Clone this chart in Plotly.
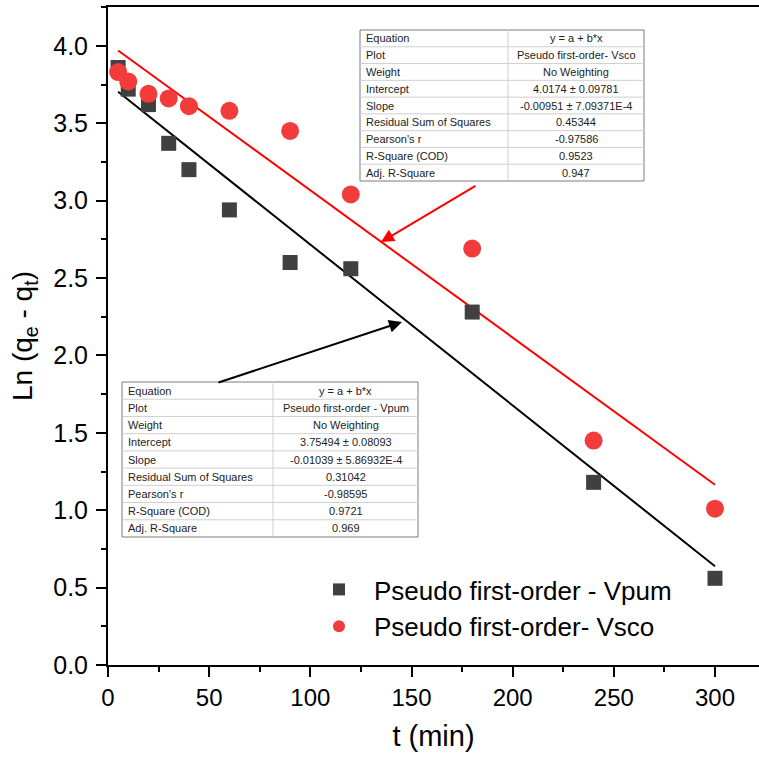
import plotly.graph_objects as go

# ---- data ----
t_min = [5, 10, 20, 30, 40, 60, 90, 120, 180, 240, 300]
ln_vpum = [3.86, 3.72, 3.62, 3.37, 3.20, 2.94, 2.60, 2.56, 2.28, 1.18, 0.56]
ln_vsco = [3.83, 3.77, 3.69, 3.66, 3.61, 3.58, 3.45, 3.04, 2.69, 1.45, 1.01]

fit_vpum = {"intercept": 3.75494, "slope": -0.01039}
fit_vsco = {"intercept": 4.0174, "slope": -0.00951}
fit_t = [5, 300]

name_vpum = "Pseudo first-order - Vpum"
name_vsco = "Pseudo first-order- Vsco"

x_ticks = [0, 50, 100, 150, 200, 250, 300]
y_ticks = [0, 0.5, 1.0, 1.5, 2.0, 2.5, 3.0, 3.5, 4.0]
y_tick_labels = ["0.0", "0.5", "1.0", "1.5", "2.0", "2.5", "3.0", "3.5", "4.0"]

table_labels = ["Equation", "Plot", "Weight", "Intercept", "Slope",
                "Residual Sum of Squares", "Pearson's r", "R-Square (COD)", "Adj. R-Square"]
table_vsco = ["y = a + b*x", "Pseudo first-order- Vsco", "No Weighting",
              "4.0174 \u00b1 0.09781", "-0.00951 \u00b1 7.09371E-4", "0.45344",
              "-0.97586", "0.9523", "0.947"]
table_vpum = ["y = a + b*x", "Pseudo first-order - Vpum", "No Weighting",
              "3.75494 \u00b1 0.08093", "-0.01039 \u00b1 5.86932E-4", "0.31042",
              "-0.98595", "0.9721", "0.969"]

W, H = 759, 759
ML, MR, MT, MB = 108, 0, 7, 94
PW, PH = W - ML - MR, H - MT - MB

def px(x):
    return (x - ML) / PW

def py(y):
    return (H - MB - y) / PH

FONT = "Liberation Sans, Arial, sans-serif"
RED = "#f23c3c"
GREY = "#404040"

fig = go.Figure()

fig.add_trace(go.Scatter(
    x=fit_t, y=[fit_vpum["intercept"] + fit_vpum["slope"] * t for t in fit_t],
    mode="lines", line=dict(color="black", width=2), showlegend=False, hoverinfo="skip"))
fig.add_trace(go.Scatter(
    x=fit_t, y=[fit_vsco["intercept"] + fit_vsco["slope"] * t for t in fit_t],
    mode="lines", line=dict(color="#ff0000", width=2), showlegend=False, hoverinfo="skip"))

fig.add_trace(go.Scatter(
    x=t_min, y=ln_vpum, mode="markers", name=name_vpum,
    marker=dict(symbol="square", size=15, color=GREY, line=dict(width=0))))
fig.add_trace(go.Scatter(
    x=t_min, y=ln_vsco, mode="markers", name=name_vsco,
    marker=dict(symbol="circle", size=18, color=RED, line=dict(width=0))))

shapes = []
annotations = []

def add_table(left, right, top, bottom, coldiv, values):
    n = len(table_labels)
    rh = (bottom - top) / n
    shapes.append(dict(type="rect", xref="paper", yref="paper",
                       x0=px(left), x1=px(right), y0=py(bottom), y1=py(top),
                       fillcolor="white", line=dict(color="#7a7a7a", width=1), layer="above"))
    for i in range(1, n):
        yy = top + i * rh
        shapes.append(dict(type="line", xref="paper", yref="paper",
                           x0=px(left), x1=px(right), y0=py(yy), y1=py(yy),
                           line=dict(color="#cfcfcf", width=1), layer="above"))
    shapes.append(dict(type="line", xref="paper", yref="paper",
                       x0=px(coldiv), x1=px(coldiv), y0=py(bottom), y1=py(top),
                       line=dict(color="#cfcfcf", width=1), layer="above"))
    for i in range(n):
        yc = top + (i + 0.5) * rh
        annotations.append(dict(xref="paper", yref="paper", x=px(left + 4), y=py(yc),
                                text=table_labels[i], showarrow=False, xanchor="left",
                                yanchor="middle", font=dict(family=FONT, size=11, color="#222")))
        annotations.append(dict(xref="paper", yref="paper", x=px((coldiv + right) / 2), y=py(yc),
                                text=values[i], showarrow=False, xanchor="center",
                                yanchor="middle", font=dict(family=FONT, size=11, color="#222")))

add_table(360, 644, 30, 181, 508, table_vsco)
add_table(122, 418, 382, 537, 273, table_vpum)

def add_arrow(x0, y0, x1, y1, color):
    annotations.append(dict(xref="paper", yref="paper", x=px(x1), y=py(y1),
                            ax=x0 - x1, ay=y0 - y1, axref="pixel", ayref="pixel",
                            text="", showarrow=True, arrowhead=2, arrowsize=1.3,
                            arrowwidth=2, arrowcolor=color))

add_arrow(477, 185, 381, 242, "#ff0000")
add_arrow(217, 383, 402, 322, "black")

fig.update_layout(
    width=W, height=H,
    margin=dict(l=ML, r=MR, t=MT, b=MB, pad=0),
    paper_bgcolor="white", plot_bgcolor="white",
    font=dict(family=FONT, color="black"),
    shapes=shapes, annotations=annotations,
    legend=dict(x=px(304), y=py(566), xanchor="left", yanchor="top",
                bgcolor="rgba(0,0,0,0)", font=dict(family=FONT, size=26, color="black"),
                itemsizing="constant", itemwidth=60, tracegroupgap=0),
    showlegend=True,
)

fig.update_xaxes(
    range=[0, PW / (607.0 / 300)], showgrid=False, zeroline=False,
    showline=True, linecolor="black", linewidth=2, mirror=True,
    ticks="outside", ticklen=10, tickwidth=2, tickcolor="black",
    tickvals=x_ticks,
    tickfont=dict(family=FONT, size=24, color="black"),
    minor=dict(ticks="outside", ticklen=5, tickwidth=2, tickcolor="black", dtick=25, tick0=0),
    title=dict(text="t (min)", font=dict(family=FONT, size=29, color="black"), standoff=16),
)
fig.update_yaxes(
    range=[0, PH / 154.8], showgrid=False, zeroline=False,
    showline=True, linecolor="black", linewidth=2, mirror=False,
    ticks="outside", ticklen=10, tickwidth=2, tickcolor="black",
    tickvals=y_ticks, ticktext=y_tick_labels, ticklabelstandoff=3,
    tickfont=dict(family=FONT, size=25, color="black"),
    minor=dict(ticks="outside", ticklen=5, tickwidth=2, tickcolor="black", dtick=0.25, tick0=0),
    title=dict(text="Ln (q<sub>e</sub> - q<sub>t</sub>)", font=dict(family=FONT, size=28, color="black"), standoff=12),
)

fig.write_html("out.html")
